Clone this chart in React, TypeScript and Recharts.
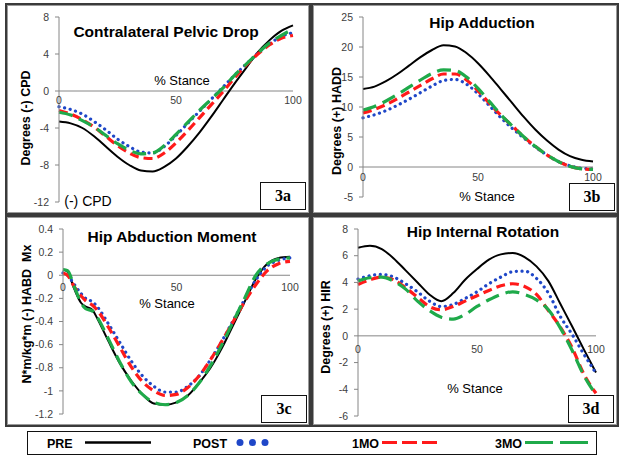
import React from 'react';
import { LineChart, Line, XAxis, YAxis, ReferenceLine, ReferenceDot } from 'recharts';

// % stance samples
const stance = [0, 5, 10, 15, 20, 25, 30, 35, 40, 45, 50, 55, 60, 65, 70, 75, 80, 85, 90, 95, 100];
const stanceMoment = [0, 2, 5, 8, 10, 13, 15, 20, 25, 30, 35, 40, 45, 50, 55, 60, 65, 70, 75, 80, 85, 90, 95, 100];
const xTicks = [0, 50, 100];

// 3a contralateral pelvic drop (deg)
const cpdPre = [-3.3, -3.5, -4.0, -4.9, -6.0, -7.1, -8.0, -8.6, -8.7, -8.2, -7.3, -6.0, -4.5, -2.8, -1.0, 0.8, 2.5, 4.2, 5.5, 6.5, 7.1];
const cpdPost = [-1.7, -2.0, -2.5, -3.3, -4.2, -5.2, -6.0, -6.6, -6.7, -6.0, -4.8, -3.5, -2.2, -0.9, 0.4, 1.7, 2.9, 4.1, 5.1, 5.9, 6.3];
const cpd1mo = [-2.1, -2.5, -3.1, -3.9, -4.9, -5.9, -6.7, -7.2, -7.3, -6.7, -5.6, -4.3, -2.9, -1.5, -0.1, 1.4, 2.8, 4.0, 5.0, 5.7, 6.0];
const cpd3mo = [-2.3, -2.6, -3.2, -3.9, -4.8, -5.7, -6.4, -6.8, -6.7, -5.9, -4.7, -3.4, -2.1, -0.9, 0.3, 1.7, 2.9, 4.1, 5.2, 6.0, 6.7];

// 3b hip adduction (deg)
const haddPre = [13.0, 13.4, 14.3, 15.5, 16.9, 18.3, 19.5, 20.3, 20.1, 19.0, 17.3, 15.2, 12.9, 10.6, 8.3, 6.2, 4.4, 2.9, 1.8, 1.2, 0.9];
const haddPost = [8.2, 8.7, 9.4, 10.3, 11.3, 12.4, 13.5, 14.4, 14.6, 13.8, 12.2, 10.2, 8.2, 6.4, 4.8, 3.3, 2.0, 0.9, 0.2, -0.2, -0.3];
const hadd1mo = [9.0, 9.6, 10.4, 11.4, 12.5, 13.6, 14.7, 15.5, 15.5, 14.5, 12.7, 10.6, 8.6, 6.8, 5.0, 3.4, 2.0, 0.9, 0.1, -0.3, -0.4];
const hadd3mo = [9.5, 10.1, 11.0, 12.1, 13.3, 14.5, 15.6, 16.2, 16.1, 15.0, 13.1, 10.9, 8.7, 6.8, 5.0, 3.4, 2.0, 0.9, 0.1, -0.3, -0.4];

// 3c hip abduction moment (N*m/kg*m)
const momPre = [0.05, 0.03, -0.12, -0.24, -0.27, -0.3, -0.37, -0.57, -0.76, -0.91, -1.03, -1.11, -1.12, -1.1, -1.04, -0.93, -0.8, -0.63, -0.43, -0.23, -0.03, 0.1, 0.15, 0.16];
const momPost = [0.02, 0.0, -0.08, -0.16, -0.2, -0.23, -0.27, -0.42, -0.58, -0.74, -0.87, -0.96, -1.01, -1.01, -0.96, -0.87, -0.73, -0.57, -0.39, -0.21, -0.04, 0.08, 0.13, 0.15];
const mom1mo = [0.02, 0.0, -0.1, -0.18, -0.22, -0.26, -0.3, -0.45, -0.62, -0.79, -0.92, -1.0, -1.04, -1.03, -0.97, -0.87, -0.73, -0.57, -0.4, -0.23, -0.08, 0.04, 0.1, 0.12];
const mom3mo = [0.05, 0.04, -0.1, -0.24, -0.29, -0.31, -0.36, -0.55, -0.75, -0.92, -1.03, -1.1, -1.12, -1.1, -1.04, -0.93, -0.78, -0.6, -0.4, -0.2, 0.0, 0.1, 0.14, 0.15];

// 3d hip internal rotation (deg)
const hirPre = [6.6, 6.75, 6.5, 5.8, 4.9, 4.0, 3.1, 2.6, 3.2, 4.2, 5.0, 5.7, 6.1, 6.2, 5.9, 5.2, 4.1, 2.4, 0.7, -1.05, -2.75];
const hirPost = [4.25, 4.5, 4.6, 4.4, 3.9, 3.3, 2.6, 2.2, 2.35, 2.8, 3.3, 3.9, 4.4, 4.8, 4.85, 4.3, 3.2, 1.45, 0.1, -1.4, -2.8];
const hir1mo = [3.85, 4.2, 4.4, 4.2, 3.6, 2.9, 2.2, 1.95, 2.2, 2.6, 3.0, 3.4, 3.75, 3.9, 3.7, 3.1, 1.9, 0.65, -0.9, -2.9, -4.3];
const hir3mo = [4.1, 4.35, 4.4, 4.1, 3.5, 2.6, 1.9, 1.4, 1.25, 1.6, 2.2, 2.7, 3.1, 3.3, 3.1, 2.7, 1.95, 0.6, -1.1, -3.0, -4.4];

const FONT = '"Liberation Sans", Arial, sans-serif';
const AXIS_GRAY = '#868686';
const TICK_TEXT = '#404040';

const SERIES = [
  { key: 'pre', name: 'PRE', color: '#000000', width: 2, dash: undefined as string | undefined, cap: 'butt' as const },
  { key: 'post', name: 'POST', color: '#1f47c8', width: 3.2, dash: '0.1 5.6', cap: 'round' as const },
  { key: 'mo1', name: '1MO', color: '#ff1a1a', width: 3.2, dash: '9 5', cap: 'butt' as const },
  { key: 'mo3', name: '3MO', color: '#1faa4a', width: 3.2, dash: '14 7', cap: 'butt' as const },
];

const buildRows = (x: number[], pre: number[], post: number[], mo1: number[], mo3: number[]) =>
  x.map((s, i) => ({ stance: s, pre: pre[i], post: post[i], mo1: mo1[i], mo3: mo3[i] }));

type Box = { left: number; top: number; width: number; height: number };

interface PanelProps {
  box: Box;
  margin: { top: number; right: number; bottom: number; left: number };
  domain: [number, number];
  ticks: number[];
  data: Array<Record<string, number>>;
  xLabelOffset: number;
}

function Panel({ box, margin, domain, ticks, data, xLabelOffset }: PanelProps) {
  return (
    <div style={{ position: 'absolute', left: box.left, top: box.top }}>
      <LineChart width={box.width} height={box.height} data={data} margin={margin}>
        <XAxis type="number" dataKey="stance" domain={[0, 100]} hide />
        <YAxis
          type="number"
          domain={domain}
          ticks={ticks}
          width={40}
          interval={0}
          axisLine={{ stroke: AXIS_GRAY }}
          tickLine={{ stroke: AXIS_GRAY }}
          tickSize={4}
          tickMargin={6}
          tick={{ fill: TICK_TEXT, fontSize: 10.5, fontFamily: FONT }}
        />
        <ReferenceLine y={0} stroke={AXIS_GRAY} strokeWidth={1} />
        {xTicks.map((t) => (
          <ReferenceDot
            key={t}
            x={t}
            y={0}
            r={0}
            fill="none"
            stroke="none"
            label={{ value: String(t), position: 'bottom', offset: xLabelOffset, fill: TICK_TEXT, fontSize: 10.5, fontFamily: FONT }}
          />
        ))}
        {SERIES.map((s) => (
          <Line
            key={s.key}
            type="monotone"
            dataKey={s.key}
            stroke={s.color}
            strokeWidth={s.width}
            strokeDasharray={s.dash}
            strokeLinecap={s.cap}
            dot={false}
            activeDot={false}
            isAnimationActive={false}
          />
        ))}
      </LineChart>
    </div>
  );
}

const Label = ({ x, y, text, size = 13, bold = false, rotate = false, family = FONT }: { x: number; y: number; text: string; size?: number; bold?: boolean; rotate?: boolean; family?: string }) => (
  <div
    style={{
      position: 'absolute',
      left: x,
      top: y,
      transform: `translate(-50%, -50%)${rotate ? ' rotate(-90deg)' : ''}`,
      whiteSpace: 'pre',
      fontFamily: family,
      fontSize: size,
      fontWeight: bold ? 700 : 400,
      color: '#000',
      lineHeight: 1,
    }}
  >
    {text}
  </div>
);

const Tag = ({ left, top, text }: { left: number; top: number; text: string }) => (
  <div
    style={{
      position: 'absolute',
      left,
      top,
      width: 46,
      height: 28,
      boxSizing: 'border-box',
      border: '1.5px solid #111',
      background: '#fff',
      display: 'flex',
      alignItems: 'center',
      justifyContent: 'center',
      fontFamily: '"Liberation Serif", "Times New Roman", serif',
      fontWeight: 700,
      fontSize: 16,
    }}
  >
    {text}
  </div>
);

const panelStyle = (b: Box): React.CSSProperties => ({
  position: 'absolute',
  left: b.left,
  top: b.top,
  width: b.width,
  height: b.height,
  boxSizing: 'border-box',
  border: '1px solid #9a9a9a',
  background: '#fff',
});

export default function App() {
  const boxA = { left: 7, top: 5, width: 302, height: 208 };
  const boxB = { left: 313, top: 5, width: 304, height: 208 };
  const boxC = { left: 7, top: 217, width: 302, height: 208 };
  const boxD = { left: 313, top: 217, width: 304, height: 208 };

  return (
    <div style={{ position: 'absolute', left: 0, top: 0, width: 622, height: 461, background: '#fff', overflow: 'hidden', fontFamily: FONT }}>
      <div style={{ position: 'absolute', left: 5, top: 3, width: 614, height: 424, background: '#3a3a3a' }} />
      {[boxA, boxB, boxC, boxD].map((b, i) => (
        <div key={i} style={panelStyle(b)} />
      ))}

      <Panel box={boxA} margin={{ top: 12, right: 16, bottom: 11, left: 12 }} domain={[-12, 8]} ticks={[-12, -8, -4, 0, 4, 8]} data={buildRows(stance, cpdPre, cpdPost, cpd1mo, cpd3mo)} xLabelOffset={6} />
      <Panel box={boxB} margin={{ top: 12, right: 24, bottom: 16, left: 10 }} domain={[-5, 25]} ticks={[-5, 0, 5, 10, 15, 20, 25]} data={buildRows(stance, haddPre, haddPost, hadd1mo, hadd3mo)} xLabelOffset={7} />
      <Panel box={boxC} margin={{ top: 12, right: 19, bottom: 11, left: 16 }} domain={[-1.2, 0.4]} ticks={[-1.2, -1, -0.8, -0.6, -0.4, -0.2, 0, 0.2, 0.4]} data={buildRows(stanceMoment, momPre, momPost, mom1mo, mom3mo)} xLabelOffset={8} />
      <Panel box={boxD} margin={{ top: 12, right: 21, bottom: 9, left: 5 }} domain={[-6, 8]} ticks={[-6, -4, -2, 0, 2, 4, 6, 8]} data={buildRows(stance, hirPre, hirPost, hir1mo, hir3mo)} xLabelOffset={10} />

      <Label x={166} y={32} text="Contralateral Pelvic Drop" size={15.5} bold />
      <Label x={482} y={23} text="Hip Adduction" size={15.5} bold />
      <Label x={172} y={237} text="Hip Abduction Moment" size={15.5} bold />
      <Label x={483} y={232} text="Hip Internal Rotation" size={15.5} bold />

      <Label x={26} y={118} text="Degrees (-) CPD" size={12.5} bold rotate />
      <Label x={337} y={121} text="Degrees (+) HADD" size={12.5} bold rotate />
      <Label x={27} y={314} text="N*m/kg*m (-) HABD  Mx" size={12.5} bold rotate />
      <Label x={326} y={327} text="Degrees (+) HIR" size={12.5} bold rotate />

      <Label x={182} y={80} text="% Stance" />
      <Label x={487} y={196} text="% Stance" />
      <Label x={167} y={303} text="% Stance" />
      <Label x={475} y={388} text="% Stance" />

      <Label x={88} y={201} text="(-) CPD" size={14} />

      <Tag left={260} top={182} text="3a" />
      <Tag left={569} top={183} text="3b" />
      <Tag left={261} top={395} text="3c" />
      <Tag left={568} top={395} text="3d" />

      <div style={{ position: 'absolute', left: 27, top: 431, width: 570, height: 24, boxSizing: 'border-box', border: '1.5px solid #111', background: '#fff' }}>
        <svg width={570} height={24} style={{ position: 'absolute', left: -1.5, top: -1.5 }}>
          <g fontFamily={FONT} fontWeight={700} fontSize={12.5} fill="#000">
            <text x={20} y={16.5}>{SERIES[0].name}</text>
            <text x={166} y={16.5}>{SERIES[1].name}</text>
            <text x={325} y={16.5}>{SERIES[2].name}</text>
            <text x={468} y={16.5}>{SERIES[3].name}</text>
          </g>
          <line x1={58} x2={124} y1={11.5} y2={11.5} stroke={SERIES[0].color} strokeWidth={2.5} />
          {[213, 225.5, 238].map((cx) => (
            <circle key={cx} cx={cx} cy={11.5} r={3.5} fill={SERIES[1].color} />
          ))}
          <line x1={355} x2={410} y1={11.5} y2={11.5} stroke={SERIES[2].color} strokeWidth={3} strokeDasharray="15 5" />
          <line x1={498} x2={561} y1={11.5} y2={11.5} stroke={SERIES[3].color} strokeWidth={3} strokeDasharray="28 7" />
        </svg>
      </div>
    </div>
  );
}
